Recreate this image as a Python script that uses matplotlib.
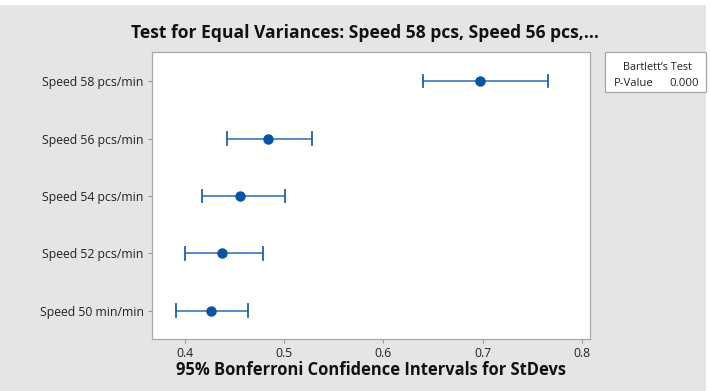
import matplotlib
matplotlib.use("Agg")
import matplotlib.pyplot as plt
from matplotlib.patches import Rectangle

categories = ["Speed 50 min/min", "Speed 52 pcs/min", "Speed 54 pcs/min",
              "Speed 56 pcs/min", "Speed 58 pcs/min"]
stdev = [0.426, 0.437, 0.455, 0.484, 0.697]
lower = [0.391, 0.400, 0.417, 0.442, 0.640]
upper = [0.463, 0.479, 0.501, 0.528, 0.766]
xticks = [0.4, 0.5, 0.6, 0.7, 0.8]
title = "Test for Equal Variances: Speed 58 pcs, Speed 56 pcs,..."
xlabel = "95% Bonferroni Confidence Intervals for StDevs"
test_name = "Bartlett\u2019s Test"
p_value = "0.000"

plt.rcParams['font.family'] = ['Open Sans', 'DejaVu Sans']

fig = plt.figure(figsize=(7.1, 3.91), dpi=100)
fig.patch.set_facecolor('white')
bg_col = '#e5e5e5'
fig.patches.append(Rectangle((0, 0), 706 / 710, 386 / 391, transform=fig.transFigure,
                             facecolor=bg_col, edgecolor='none', zorder=-10))

ax = fig.add_axes([152 / 710, 1 - 338.5 / 391, (589.7 - 152) / 710, (338.5 - 52.5) / 391])
ax.set_facecolor('white')

ys = list(range(len(categories)))
line_col = '#4a82c2'
for y, lo, hi, c in zip(ys, lower, upper, stdev):
    ax.plot([lo, hi], [y, y], color=line_col, lw=1.3, solid_capstyle='butt', zorder=2)
    ax.plot([lo, lo], [y - 0.11, y + 0.11], color='#1f5fa8', lw=1.3, zorder=2)
    ax.plot([hi, hi], [y - 0.11, y + 0.11], color='#1f5fa8', lw=1.3, zorder=2)
ax.plot(stdev, ys, 'o', color='#0a52a3', markersize=6.5, zorder=3, ls='none')

ax.set_xlim(0.3667, 0.808)
ax.set_ylim(-0.485, 4.5)
ax.set_xticks(xticks)
ax.set_xticklabels([f"{v:.1f}" for v in xticks], fontsize=8.8, color='#222222')
ax.set_yticks(ys)
ax.set_yticklabels(categories, fontsize=8.8, color='#222222')
ax.tick_params(axis='both', length=3, width=0.8, color='#999999', pad=3)
for s in ax.spines.values():
    s.set_color('#a8a8a8')
    s.set_linewidth(0.9)

ax.set_xlabel(xlabel, fontsize=11.9, fontweight='bold', labelpad=1, color='#111111')
fig.text(365 / 710, 1 - 33 / 391, title, fontsize=12.6, fontweight='bold',
         ha='center', va='center', color='#111111')

# Bartlett's test box
fig.patches.append(Rectangle((605 / 710, 1 - 92 / 391), 100.5 / 710, 39.5 / 391,
                             transform=fig.transFigure, facecolor='white',
                             edgecolor='#a8a8a8', lw=0.9, zorder=5))
fig.text(657 / 710, 1 - 67 / 391, test_name, fontsize=7.8, ha='center', va='center',
         color='#222222', zorder=6)
fig.text(614 / 710, 1 - 84 / 391, "P-Value", fontsize=8.2, ha='left', va='center',
         color='#222222', zorder=6)
fig.text(699 / 710, 1 - 84 / 391, p_value, fontsize=8.2, ha='right', va='center',
         color='#222222', zorder=6)

fig.savefig("out.png", dpi=100, facecolor=fig.get_facecolor())
